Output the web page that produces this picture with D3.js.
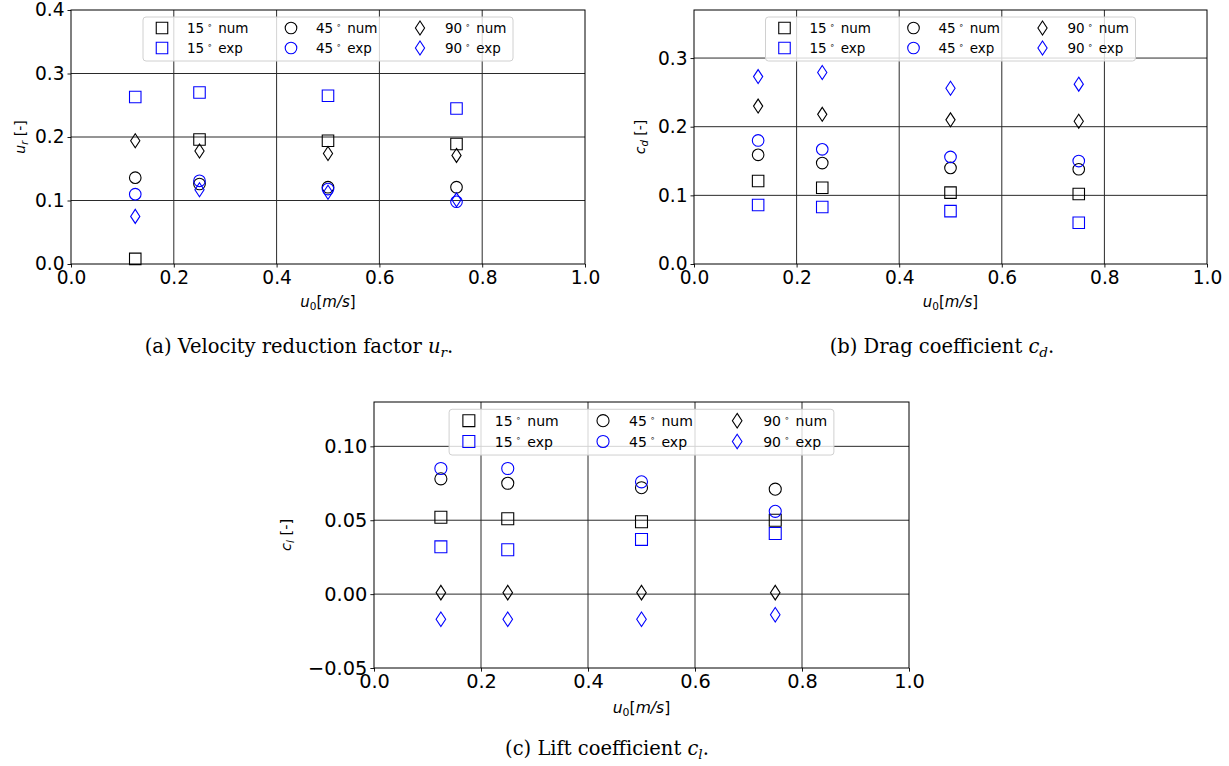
<!DOCTYPE html>
<html><head><meta charset="utf-8">
<script src="https://cdn.jsdelivr.net/npm/d3@7"></script>
<style>body{margin:0;background:#fff}svg{display:block}</style>
</head><body>
<svg id="fig" width="1229" height="766"></svg>
<script>
const xVals = [0.125, 0.25, 0.5, 0.75];
const xTicks = [0.0, 0.2, 0.4, 0.6, 0.8, 1.0];

// (a) velocity reduction factor u_r
const ur15num = [0.008, 0.196, 0.194, 0.189];
const ur15exp = [0.263, 0.270, 0.265, 0.245];
const ur45num = [0.136, 0.126, 0.121, 0.121];
const ur45exp = [0.110, 0.131, 0.118, 0.098];
const ur90num = [0.194, 0.178, 0.174, 0.171];
const ur90exp = [0.075, 0.117, 0.113, 0.101];
const urTicks = [0.0, 0.1, 0.2, 0.3, 0.4];

// (b) drag coefficient c_d
const cd15num = [0.121, 0.111, 0.104, 0.102];
const cd15exp = [0.086, 0.083, 0.077, 0.060];
const cd45num = [0.159, 0.147, 0.140, 0.138];
const cd45exp = [0.180, 0.167, 0.156, 0.150];
const cd90num = [0.230, 0.218, 0.210, 0.208];
const cd90exp = [0.273, 0.279, 0.256, 0.262];
const cdTicks = [0.0, 0.1, 0.2, 0.3];

// (c) lift coefficient c_l
const cl15num = [0.052, 0.051, 0.049, 0.050];
const cl15exp = [0.032, 0.030, 0.037, 0.041];
const cl45num = [0.078, 0.075, 0.072, 0.071];
const cl45exp = [0.085, 0.085, 0.076, 0.056];
const cl90num = [0.001, 0.001, 0.001, 0.001];
const cl90exp = [-0.017, -0.017, -0.017, -0.014];
const clTicks = [-0.05, 0.00, 0.05, 0.10];

const seriesNames = ["15 num", "15 exp", "45 num", "45 exp", "90 num", "90 exp"];

const svg = d3.select("#fig");
const BLUE = "#0000ff";

function markerPath(shape, s) {
  if (shape === "square") { const h = 5.75 * s; return `M${-h},${-h}H${h}V${h}H${-h}Z`; }
  if (shape === "diamond") { const w = 4.6 * s, h = 7 * s; return `M0,${-h}L${w},0L0,${h}L${-w},0Z`; }
  const r = 5.8 * s;
  return `M${r},0A${r},${r} 0 1,1 ${-r},0A${r},${r} 0 1,1 ${r},0Z`;
}

function drawPanel(p) {
  const g = svg.append("g");
  const x = d3.scaleLinear().domain([0, 1]).range([p.left, p.right]);
  const y = d3.scaleLinear().domain(p.ydom).range([p.bottom, p.top]);
  const s = p.scale;
  // grid
  g.append("g").selectAll("line").data(xTicks.slice(1, -1)).join("line")
    .attr("x1", d => x(d)).attr("x2", d => x(d)).attr("y1", p.top).attr("y2", p.bottom)
    .attr("stroke", "#2a2a2a").attr("stroke-width", 1);
  g.append("g").selectAll("line").data(p.yticks.filter(t => y(t) < p.bottom - 1 && y(t) > p.top + 1)).join("line")
    .attr("y1", d => y(d)).attr("y2", d => y(d)).attr("x1", p.left).attr("x2", p.right)
    .attr("stroke", "#2a2a2a").attr("stroke-width", 1);
  // axes
  const xa = g.append("g").attr("transform", `translate(0,${p.bottom})`)
    .call(d3.axisBottom(x).tickValues(xTicks).tickSize(3.5 * s).tickPadding(3 * s).tickFormat(d3.format(".1f")));
  const ya = g.append("g").attr("transform", `translate(${p.left},0)`)
    .call(d3.axisLeft(y).tickValues(p.yticks).tickSize(3.5 * s).tickPadding(3 * s).tickFormat(p.fmt));
  [xa, ya].forEach(a => {
    a.select(".domain").remove();
    a.selectAll("line").attr("stroke", "#000").attr("stroke-width", 0.9);
    a.selectAll("text").attr("font-family", "DejaVu Sans").attr("font-size", 18.6 * s).attr("fill", "#000");
  });
  ya.selectAll("text").text(d => p.fmt(d).replace("-", "\u2212"));
  g.append("rect").attr("x", p.left).attr("y", p.top).attr("width", p.right - p.left).attr("height", p.bottom - p.top)
    .attr("fill", "none").attr("stroke", "#000").attr("stroke-width", 1);
  // data
  const styles = [
    { shape: "square", color: "#000" }, { shape: "square", color: BLUE },
    { shape: "circle", color: "#000" }, { shape: "circle", color: BLUE },
    { shape: "diamond", color: "#000" }, { shape: "diamond", color: BLUE }
  ];
  p.series.forEach((vals, i) => {
    g.append("g").selectAll("path").data(vals).join("path")
      .attr("transform", (d, j) => `translate(${x(xVals[j])},${y(d)})`)
      .attr("d", markerPath(styles[i].shape, s))
      .attr("fill", "none").attr("stroke", styles[i].color).attr("stroke-width", 1.1);
  });
  // legend
  const lw = 370 * s, lh = 44 * s;
  const cx = (p.left + p.right) / 2;
  const lg = g.append("g").attr("transform", `translate(${cx - lw / 2},${p.top + 7 * s})`);
  lg.append("rect").attr("width", lw).attr("height", lh).attr("rx", 3).attr("ry", 3)
    .attr("fill", "#fff").attr("fill-opacity", 0.8).attr("stroke", "#d0d0d0").attr("stroke-width", 1);
  const colX = [19, 148, 277];
  const rowY = [10, 30];
  seriesNames.forEach((name, i) => {
    const c = Math.floor(i / 2), r = i % 2;
    const mx = colX[c] * s, my = rowY[r] * s + 1;
    lg.append("path").attr("transform", `translate(${mx},${my})`)
      .attr("d", markerPath(styles[i].shape, s)).attr("fill", "none")
      .attr("stroke", styles[i].color).attr("stroke-width", 1.1);
    const [deg, kind] = name.split(" ");
    const t = lg.append("text").attr("x", mx + 25 * s).attr("y", my + 5 * s)
      .attr("font-family", "DejaVu Sans").attr("font-size", 13.5 * s).attr("fill", "#000");
    t.append("tspan").text(deg);
    t.append("tspan").attr("dx", 3 * s).attr("dy", -5 * s).attr("font-size", 8 * s).text("\u2218");
    t.append("tspan").attr("dx", 6 * s).attr("dy", 5 * s).text(kind);
  });
  // x label
  const xl = g.append("text").attr("x", cx).attr("y", p.bottom + 43 * s).attr("text-anchor", "middle")
    .attr("font-family", "DejaVu Sans").attr("font-size", 15 * s).attr("fill", "#000");
  xl.append("tspan").attr("font-style", "italic").text("u");
  xl.append("tspan").attr("font-size", 10.5 * s).attr("dy", 3 * s).text("0");
  xl.append("tspan").attr("dy", -3 * s).text("[");
  xl.append("tspan").attr("font-style", "italic").text("m/s");
  xl.append("tspan").text("]");
  // y label
  const ly = (p.top + p.bottom) / 2;
  const yl = g.append("text").attr("transform", `translate(${p.ylabX},${ly}) rotate(-90)`).attr("text-anchor", "middle")
    .attr("font-family", "DejaVu Sans").attr("font-size", 14 * s).attr("fill", "#000");
  yl.append("tspan").attr("font-style", "italic").text(p.ysym[0]);
  yl.append("tspan").attr("font-style", "italic").attr("font-size", 10 * s).attr("dy", 3 * s).text(p.ysym[1]);
  yl.append("tspan").attr("dy", -3 * s).text(" [-]");
  // caption
  const cap = svg.append("text").attr("x", p.capX).attr("y", p.capY).attr("text-anchor", "middle")
    .attr("font-family", "DejaVu Serif").attr("font-size", 19.5).attr("fill", "#000");
  cap.append("tspan").text(p.caption);
  cap.append("tspan").attr("font-style", "italic").text(p.capSym[0]);
  cap.append("tspan").attr("font-style", "italic").attr("font-size", "0.7em").attr("dy", 4).text(p.capSym[1]);
  cap.append("tspan").attr("dy", -4).text(".");
}

drawPanel({
  left: 71, right: 585, top: 10, bottom: 264, ydom: [0, 0.4], yticks: urTicks, fmt: d3.format(".1f"),
  series: [ur15num, ur15exp, ur45num, ur45exp, ur90num, ur90exp], scale: 1,
  ylabX: 25, ysym: ["u", "r"], caption: "(a) Velocity reduction factor ", capSym: ["u", "r"],
  capX: 299, capY: 353
});
drawPanel({
  left: 694, right: 1207, top: 10, bottom: 264, ydom: [0, 0.37], yticks: cdTicks, fmt: d3.format(".1f"),
  series: [cd15num, cd15exp, cd45num, cd45exp, cd90num, cd90exp], scale: 1,
  ylabX: 645, ysym: ["c", "d"], caption: "(b) Drag coefficient ", capSym: ["c", "d"],
  capX: 942, capY: 353
});
drawPanel({
  left: 374, right: 909, top: 402, bottom: 668, ydom: [-0.05, 0.13], yticks: clTicks, fmt: d3.format(".2f"),
  series: [cl15num, cl15exp, cl45num, cl45exp, cl90num, cl90exp], scale: 1.04,
  ylabX: 291, ysym: ["c", "l"], caption: "(c) Lift coefficient ", capSym: ["c", "l"],
  capX: 607, capY: 755
});
</script>
</body></html>
